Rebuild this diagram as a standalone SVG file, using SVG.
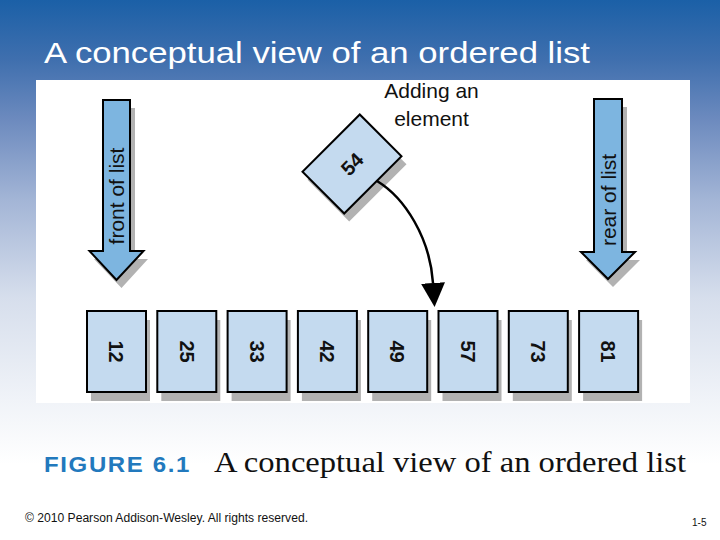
<svg xmlns="http://www.w3.org/2000/svg" width="720" height="540" viewBox="0 0 720 540">
  <defs>
    <linearGradient id="bg" x1="0" y1="0" x2="0" y2="540" gradientUnits="userSpaceOnUse">
      <stop offset="0" stop-color="#1b60a7"/>
      <stop offset="0.11" stop-color="#3f6fae"/>
      <stop offset="0.22" stop-color="#6c8abe"/>
      <stop offset="0.37" stop-color="#a3b5d6"/>
      <stop offset="0.55" stop-color="#d6deec"/>
      <stop offset="0.74" stop-color="#f0f3f8"/>
      <stop offset="0.86" stop-color="#ffffff"/>
      <stop offset="1" stop-color="#ffffff"/>
    </linearGradient>
    <marker id="head" viewBox="0 0 24 24" refX="0" refY="12" markerWidth="24" markerHeight="24" markerUnits="userSpaceOnUse" orient="auto">
      <path d="M0,0 L24,12 L0,24 Z" fill="#000"/>
    </marker>
  </defs>
  <style>
    .box { fill: #c4daef; stroke: #000; stroke-width: 2; }
    .shadow { fill: #b2b2b2; }
    .arrow { fill: #7db5e0; stroke: #000; stroke-width: 2; stroke-linejoin: miter; }
    .num { font-family: "Liberation Sans", Arial, sans-serif; font-weight: bold; font-size: 20px; fill: #111; text-anchor: middle; }
    .lbl { font-family: "Liberation Sans", Arial, sans-serif; font-size: 21px; fill: #111; text-anchor: middle; }
  </style>

  <rect x="0" y="0" width="720" height="540" fill="url(#bg)"/>
  <rect x="36" y="80" width="654" height="323" fill="#ffffff"/>

  <text x="44" y="63" font-family="Liberation Sans, Arial, sans-serif" font-size="29" fill="#ffffff" textLength="546" lengthAdjust="spacingAndGlyphs">A conceptual view of an ordered list</text>

  <g id="front">
    <polygon class="shadow" points="108,108 135,108 135,259 148,259 121.5,288 94,259 108,259"/>
    <polygon class="arrow" points="103,100 130,100 130,251 143.5,251 116.5,280 89.5,251 103,251"/>
    <text class="lbl" transform="translate(116.5,196) rotate(-90)" dy="0.36em">front of list</text>
  </g>

  <g id="rear">
    <polygon class="shadow" points="599,107 627,107 627,260 640,260 613,287 586,260 599,260"/>
    <polygon class="arrow" points="594,99 622,99 622,252 635,252 608,279 581,252 594,252"/>
    <text class="lbl" transform="translate(608,200) rotate(-90)" dy="0.36em">rear of list</text>
  </g>

  <g id="adding-label">
    <text class="lbl" x="431.5" y="98" font-size="22">Adding an</text>
    <text class="lbl" x="431.5" y="126" font-size="22">element</text>
  </g>

  <g id="new54">
    <rect class="shadow" x="-29.5" y="-40.5" width="59" height="81" transform="translate(357,172) rotate(45)"/>
    <rect class="box" x="-29.5" y="-40.5" width="59" height="81" transform="translate(352,164) rotate(45)"/>
    <text class="num" transform="translate(352,164) rotate(-45)" dy="0.36em">54</text>
  </g>

  <g id="connectors">
    <path d="M377,181 C405,198 430,238 433,283" fill="none" stroke="#000" stroke-width="2.5" marker-end="url(#head)"/>
  </g>

  <g id="n12">
    <rect class="shadow" x="91" y="320" width="59" height="81"/>
    <rect class="box" x="87" y="311" width="59" height="81"/>
    <text class="num" transform="translate(116.5,351.5) rotate(90)" dy="0.36em">12</text>
  </g>
  <g id="n25">
    <rect class="shadow" x="161.3" y="320" width="59" height="81"/>
    <rect class="box" x="157.3" y="311" width="59" height="81"/>
    <text class="num" transform="translate(186.8,351.5) rotate(90)" dy="0.36em">25</text>
  </g>
  <g id="n33">
    <rect class="shadow" x="231.6" y="320" width="59" height="81"/>
    <rect class="box" x="227.6" y="311" width="59" height="81"/>
    <text class="num" transform="translate(257.1,351.5) rotate(90)" dy="0.36em">33</text>
  </g>
  <g id="n42">
    <rect class="shadow" x="301.9" y="320" width="59" height="81"/>
    <rect class="box" x="297.9" y="311" width="59" height="81"/>
    <text class="num" transform="translate(327.4,351.5) rotate(90)" dy="0.36em">42</text>
  </g>
  <g id="n49">
    <rect class="shadow" x="372.2" y="320" width="59" height="81"/>
    <rect class="box" x="368.2" y="311" width="59" height="81"/>
    <text class="num" transform="translate(397.7,351.5) rotate(90)" dy="0.36em">49</text>
  </g>
  <g id="n57">
    <rect class="shadow" x="442.5" y="320" width="59" height="81"/>
    <rect class="box" x="438.5" y="311" width="59" height="81"/>
    <text class="num" transform="translate(468,351.5) rotate(90)" dy="0.36em">57</text>
  </g>
  <g id="n73">
    <rect class="shadow" x="512.8" y="320" width="59" height="81"/>
    <rect class="box" x="508.8" y="311" width="59" height="81"/>
    <text class="num" transform="translate(538.3,351.5) rotate(90)" dy="0.36em">73</text>
  </g>
  <g id="n81">
    <rect class="shadow" x="583.1" y="320" width="59" height="81"/>
    <rect class="box" x="579.1" y="311" width="59" height="81"/>
    <text class="num" transform="translate(608.6,351.5) rotate(90)" dy="0.36em">81</text>
  </g>

  <g id="caption">
    <text x="44" y="472" font-family="Liberation Sans, Arial, sans-serif" font-weight="bold" font-size="22" letter-spacing="1.5" fill="#2279bd" textLength="147" lengthAdjust="spacingAndGlyphs">FIGURE 6.1</text>
    <text x="214" y="472" font-family="Liberation Serif, Times New Roman, serif" font-size="29" fill="#111" textLength="472" lengthAdjust="spacingAndGlyphs">A conceptual view of an ordered list</text>
  </g>

  <text x="25" y="522" font-family="Liberation Sans, Arial, sans-serif" font-size="12" fill="#111" textLength="283" lengthAdjust="spacingAndGlyphs">© 2010 Pearson Addison-Wesley. All rights reserved.</text>
  <text x="692" y="526" font-family="Liberation Sans, Arial, sans-serif" font-size="10" fill="#111">1-5</text>
</svg>
